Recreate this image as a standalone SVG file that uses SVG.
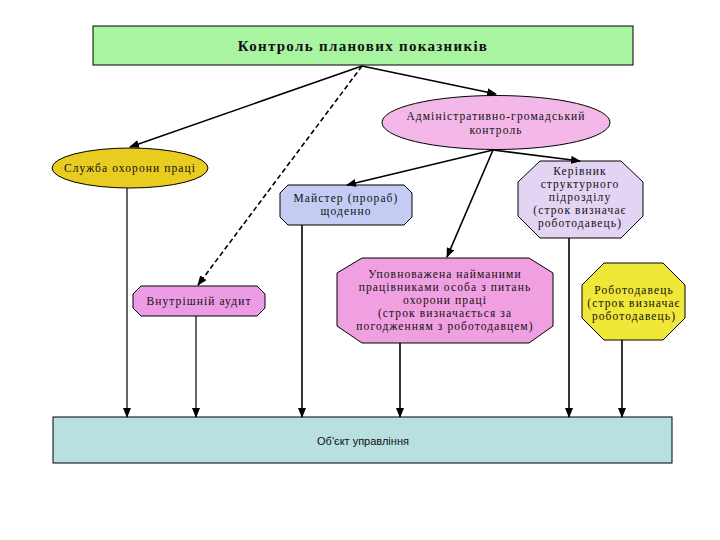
<svg xmlns="http://www.w3.org/2000/svg" width="720" height="540" viewBox="0 0 720 540">
<defs>
<marker id="ah" markerWidth="10" markerHeight="8" refX="9" refY="4" orient="auto" markerUnits="userSpaceOnUse">
<path d="M0,0 L10,4 L0,8 z" fill="#000"/>
</marker>
<style>
.t{font-family:"Liberation Serif","Times New Roman",serif;font-size:11.5px;fill:#111;text-anchor:middle;letter-spacing:1.1px}
.s{stroke:#000;stroke-width:1}
.c{stroke:#000;stroke-width:1.6;fill:none;marker-end:url(#ah)}
.d{stroke:#000;stroke-width:1.6;fill:none;stroke-dasharray:5,3;marker-end:url(#ah)}
.cl{stroke:#000;stroke-width:1.2;fill:none;marker-end:url(#ah)}
</style>
</defs>
<rect width="720" height="540" fill="#fff"/>
<g id="top">
<rect x="93" y="26" width="540" height="39" fill="#a8f4a0" class="s"/>
<text x="363" y="51" class="t" style="font-weight:bold;font-size:15px;letter-spacing:1.3px">Контроль  планових показників</text>
</g>
<g id="admin">
<ellipse cx="496" cy="122.5" rx="114" ry="27" fill="#f4b8e8" class="s"/>
<text x="496" y="120" class="t">Адміністративно-громадський</text>
<text x="496" y="134" class="t">контроль</text>
</g>
<g id="sluzhba">
<ellipse cx="130" cy="168" rx="78" ry="20" fill="#e8cc20" class="s"/>
<text x="130" y="172" class="t">Служба охорони праці</text>
</g>
<g id="maister">
<polygon points="288,185 404,185 412,193 412,217 404,225 288,225 280,217 280,193" fill="#c4ccf4" class="s"/>
<text x="346" y="202" class="t">Майстер (прораб)</text>
<text x="346" y="215" class="t">щоденно</text>
</g>
<g id="kerivnyk">
<polygon points="540,161 621,161 643,182 643,216 621,238 540,238 518,216 518,182" fill="#e4d4f4" class="s"/>
<text x="580" y="175" class="t">Керівник</text>
<text x="580" y="188" class="t">структурного</text>
<text x="580" y="201" class="t">підрозділу</text>
<text x="580" y="214" class="t">(строк визначає</text>
<text x="580" y="227" class="t">роботодавець)</text>
</g>
<g id="audit">
<polygon points="141,286 257,286 265,294 265,308 257,316 141,316 133,308 133,294" fill="#ec9ce4" class="s"/>
<text x="199" y="305" class="t">Внутрішній аудит</text>
</g>
<g id="upovn">
<polygon points="362,258 529,258 553,273 553,326 529,343 362,343 337,326 337,273" fill="#f0a0e0" class="s"/>
<text x="445" y="278" class="t">Уповноважена найманими</text>
<text x="445" y="291" class="t">працівниками особа з питань</text>
<text x="445" y="304" class="t">охорони праці</text>
<text x="445" y="317" class="t">(строк визначається за</text>
<text x="445" y="330" class="t">погодженням з роботодавцем)</text>
</g>
<g id="robotodavets">
<polygon points="604,263 663,263 685,285 685,318 663,340 604,340 582,318 582,285" fill="#f0e838" class="s"/>
<text x="634" y="294" class="t">Роботодавець</text>
<text x="634" y="307" class="t">(строк визначає</text>
<text x="634" y="320" class="t">роботодавець)</text>
</g>
<g id="object">
<rect x="53" y="417" width="619" height="46" fill="#b8e0e0" class="s"/>
<text x="363" y="445" style="font-family:'Liberation Sans',Arial,sans-serif;font-size:11px;fill:#111;text-anchor:middle">Об'єкт управління</text>
</g>
<g id="connectors">
<line x1="362" y1="66" x2="130" y2="147" class="c"/>
<line x1="362" y1="66" x2="496" y2="94" class="c"/>
<line x1="362" y1="66" x2="198" y2="285" class="d"/>
<line x1="493" y1="150" x2="347" y2="185" class="c"/>
<line x1="493" y1="150" x2="447" y2="257" class="c"/>
<line x1="493" y1="150" x2="580" y2="161" class="c"/>
<line x1="127" y1="188" x2="127" y2="417" class="cl"/>
<line x1="196" y1="316" x2="196" y2="417" class="cl"/>
<line x1="302" y1="225" x2="302" y2="417" class="c"/>
<line x1="400" y1="343" x2="400" y2="417" class="c"/>
<line x1="569" y1="238" x2="569" y2="417" class="c"/>
<line x1="622" y1="340" x2="622" y2="417" class="c"/>
</g>
</svg>
